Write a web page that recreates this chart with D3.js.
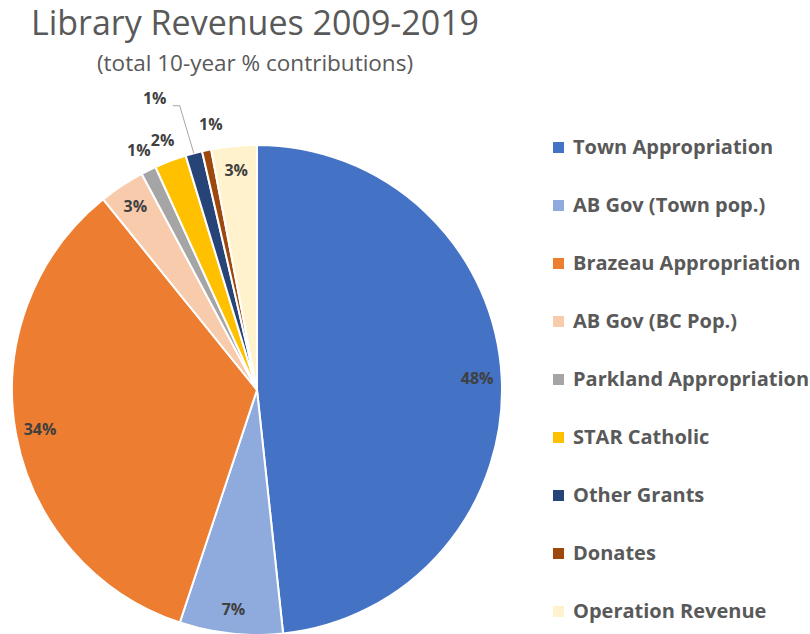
<!DOCTYPE html>
<html>
<head>
<meta charset="utf-8">
<script src="https://cdn.jsdelivr.net/npm/d3@7"></script>
<style>
  body { margin: 0; background: #fff; }
  svg { display: block; font-family: "Open Sans", sans-serif; }
</style>
</head>
<body>
<svg id="chart"></svg>
<script>
// revenue sources and their share of the 10 year total (%)
var categories = ["Town Appropriation", "AB Gov (Town pop.)", "Brazeau Appropriation",
  "AB Gov (BC Pop.)", "Parkland Appropriation", "STAR Catholic", "Other Grants",
  "Donates", "Operation Revenue"];
var shares = [48.3, 6.8, 34.1, 3.0, 1.0, 2.1, 1.1, 0.6, 3.0];
var colors = ["#4472C4", "#8FAADC", "#ED7D31", "#F8CBAD", "#A5A5A5", "#FFC000",
  "#264478", "#9E480E", "#FFF2CC"];

var width = 810, height = 634;
var cx = 257, cy = 390, radius = 245;

var svg = d3.select("#chart")
  .attr("width", width)
  .attr("height", height);

svg.append("text")
  .attr("x", 255).attr("y", 35)
  .attr("text-anchor", "middle")
  .attr("font-size", 34)
  .attr("fill", "#595959")
  .text("Library Revenues 2009-2019");

svg.append("text")
  .attr("x", 255).attr("y", 71)
  .attr("text-anchor", "middle")
  .attr("font-size", 22.5)
  .attr("fill", "#595959")
  .text("(total 10-year % contributions)");

var data = categories.map(function(c, i) { return {name: c, value: shares[i], color: colors[i]}; });

var pie = d3.pie().value(d => d.value).sort(null);
var arcs = pie(data);

var arc = d3.arc().innerRadius(0).outerRadius(radius);

var g = svg.append("g").attr("transform", `translate(${cx},${cy})`);

g.selectAll("path.slice")
  .data(arcs)
  .join("path")
  .attr("class", "slice")
  .attr("d", arc)
  .attr("fill", d => d.data.color)
  .attr("stroke", "#fff")
  .attr("stroke-width", 2)
  .attr("stroke-linejoin", "round");

// labels: big slices inside, small ones just outside the rim
function polar(angle, r) {
  return [Math.sin(angle) * r, -Math.cos(angle) * r];
}

var leaderIndex = 6; // "Other Grants" gets a label pulled out with a leader line

arcs.forEach(function(d, i) {
  var mid = (d.startAngle + d.endAngle) / 2;
  var pos;
  if (d.data.value >= 2.5) pos = polar(mid, radius * 0.9);
  else if (i === leaderIndex) pos = polar(mid - 0.077, radius * 1.26);
  else if (i === leaderIndex + 1) pos = polar(mid + 0.035, radius * 1.1);
  else pos = polar(mid, radius * 1.09);

  if (i === leaderIndex) {
    var end = polar(mid, radius);
    g.append("path")
      .attr("d", `M${pos[0] + 18},${pos[1] + 7}H${pos[0] + 25}L${end[0]},${end[1]}`)
      .attr("fill", "none")
      .attr("stroke", "#a6a6a6")
      .attr("stroke-width", 1);
  }

  g.append("text")
    .attr("x", pos[0]).attr("y", pos[1])
    .attr("dy", "0.35em")
    .attr("text-anchor", "middle")
    .attr("font-size", 16)
    .attr("font-weight", "bold")
    .attr("fill", "#404040")
    .text(Math.round(d.data.value) + "%");
});

// legend
var legendY = d3.scalePoint().domain(categories).range([147, 611]);

var legend = svg.append("g").selectAll("g")
  .data(data)
  .join("g")
  .attr("transform", d => `translate(553,${legendY(d.name)})`);

legend.append("rect")
  .attr("x", 0).attr("y", -5)
  .attr("width", 11).attr("height", 11)
  .attr("fill", d => d.color);

legend.append("text")
  .attr("x", 20).attr("y", 0)
  .attr("dy", "0.36em")
  .attr("font-size", 20)
  .attr("font-weight", "bold")
  .attr("fill", "#595959")
  .text(d => d.name);
</script>
</body>
</html>
